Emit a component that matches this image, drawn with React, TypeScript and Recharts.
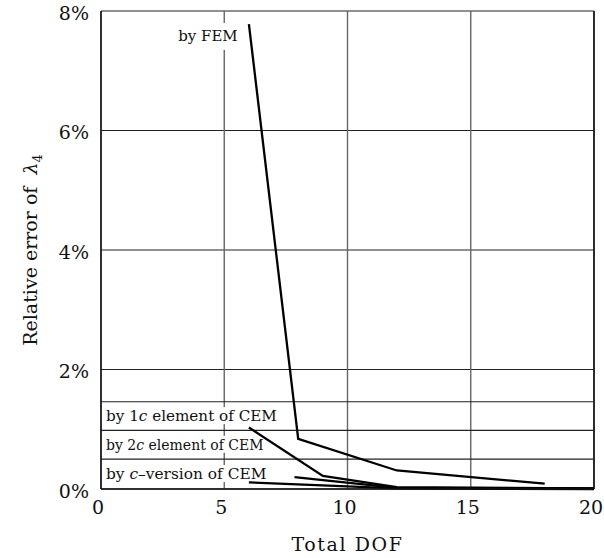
import React from 'react';
import { LineChart, Line, XAxis, YAxis, CartesianGrid, ReferenceLine, ReferenceArea } from 'recharts';

// Relative error (%) of lambda_4 vs. total DOF
const femData = [
  { x: 6, y: 7.78 },
  { x: 8, y: 0.84 },
  { x: 12, y: 0.31 },
  { x: 18, y: 0.09 },
];
const oneCData = [
  { x: 6, y: 1.03 },
  { x: 9, y: 0.22 },
  { x: 12, y: 0.03 },
  { x: 20, y: 0.01 },
];
const twoCData = [
  { x: 7.85, y: 0.2 },
  { x: 12, y: 0.02 },
  { x: 20, y: 0.01 },
];
const cVersionData = [
  { x: 6, y: 0.11 },
  { x: 12, y: 0.01 },
  { x: 20, y: 0.0 },
];

const xTicks = [0, 5, 10, 15, 20];
const yTicks = [0, 2, 4, 6, 8];
// horizontal rules that split the legend rows
const legendRules = [1.46, 0.98, 0.5];
// label text: [before italic, italic, after]
const legendLabels: [string, string, string][] = [
  ['by 1', 'c', ' element of CEM'],
  ['by 2', 'c', ' element of CEM'],
  ['by ', 'c', '\u2013version of CEM'],
];

const FONT = '"DejaVu Serif", serif';
const labelSizes = [15.2, 14, 15.4];
const labelWidths = [176, 162, 168];

const rowLabel = (idx: number) => (props: any) => {
  const { x, y, height } = props.viewBox;
  const [a, b, c] = legendLabels[idx];
  const mid = y + height / 2;
  return (
    <g>
      <rect x={x + 3} y={mid - 9} width={labelWidths[idx]} height={17} fill="#fff" />
      <text x={x + 5} y={mid + 5} fontFamily={FONT} fontSize={labelSizes[idx]} fill="#111">
        {a}
        <tspan fontStyle="italic">{b}</tspan>
        {c}
      </text>
    </g>
  );
};

const femLabel = (props: any) => {
  const { x, y, width, height } = props.viewBox;
  return (
    <g>
      <rect x={x} y={y} width={width} height={height} fill="#fff" />
      <text x={x + 2} y={y + height / 2 + 5} fontFamily={FONT} fontSize={15} fill="#111">
        by FEM
      </text>
    </g>
  );
};

const yLabel = (props: any) => {
  const { viewBox } = props;
  const cx = viewBox.x + 37;
  const cy = viewBox.y + viewBox.height / 2;
  return (
    <text
      x={cx}
      y={cy}
      transform={`rotate(-90 ${cx} ${cy})`}
      textAnchor="middle"
      fontFamily={FONT}
      fontSize={19}
      fill="#111"
    >
      Relative error of{'\u00a0 '}
      <tspan fontStyle="italic">λ</tspan>
      <tspan fontSize={13} dy={5}>4</tspan>
    </text>
  );
};

const tickStyle = { fontFamily: FONT, fontSize: 19, fill: '#111' };

export default function App() {
  return (
    <div style={{ position: 'absolute', left: 0, top: 0, background: '#fff' }}>
      <LineChart width={604} height={558} margin={{ top: 11, right: 10, left: 0, bottom: 0 }}>
        <CartesianGrid vertical={false} stroke="#222" strokeWidth={1.2} />
        <CartesianGrid horizontal={false} stroke="#666" strokeWidth={1.4} />
        <XAxis
          dataKey="x"
          type="number"
          domain={[0, 20]}
          ticks={xTicks}
          tickLine={false}
          tickSize={0}
          tickMargin={12}
          height={69}
          axisLine={{ stroke: '#111', strokeWidth: 1.5 }}
          tick={{ ...tickStyle, dx: -3 }}
          label={{
            value: 'Total DOF',
            position: 'insideBottom',
            offset: 7,
            style: { fontFamily: FONT, fontSize: 19, fill: '#111', letterSpacing: 1.6 },
          }}
        />
        <YAxis
          type="number"
          domain={[0, 8]}
          ticks={yTicks}
          width={101}
          tickLine={false}
          tickSize={0}
          tickMargin={12}
          axisLine={{ stroke: '#111', strokeWidth: 1.5 }}
          tick={{ ...tickStyle, dy: 2 }}
          tickFormatter={(v: number) => `${v}%`}
          label={yLabel}
        />
        <ReferenceLine x={20} stroke="#222" strokeWidth={1.8} />
        {legendRules.map((r) => (
          <ReferenceLine key={r} y={r} stroke="#222" strokeWidth={1.2} />
        ))}
        <ReferenceArea x1={0} x2={20} y1={legendRules[1]} y2={legendRules[0]} fill="none" stroke="none" label={rowLabel(0)} />
        <ReferenceArea x1={0} x2={20} y1={legendRules[2]} y2={legendRules[1]} fill="none" stroke="none" label={rowLabel(1)} />
        <ReferenceArea x1={0} x2={20} y1={0} y2={legendRules[2]} fill="none" stroke="none" label={rowLabel(2)} />
        <ReferenceArea x1={3.05} x2={5.65} y1={7.35} y2={7.8} fill="none" stroke="none" label={femLabel} />
        <Line data={femData} dataKey="y" type="linear" stroke="#000" strokeWidth={2.3} dot={false} isAnimationActive={false} />
        <Line data={oneCData} dataKey="y" type="linear" stroke="#000" strokeWidth={2.3} dot={false} isAnimationActive={false} />
        <Line data={twoCData} dataKey="y" type="linear" stroke="#000" strokeWidth={2.3} dot={false} isAnimationActive={false} />
        <Line data={cVersionData} dataKey="y" type="linear" stroke="#000" strokeWidth={2.3} dot={false} isAnimationActive={false} />
      </LineChart>
    </div>
  );
}
